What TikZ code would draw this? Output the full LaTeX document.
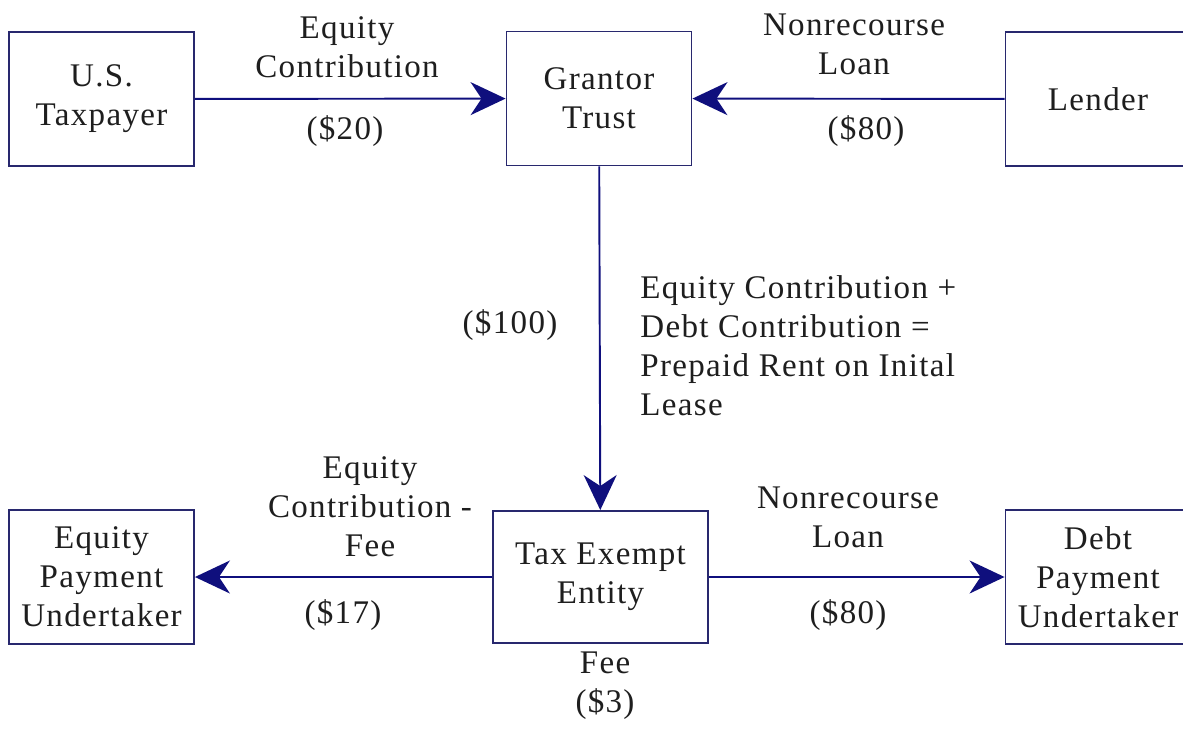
\documentclass[tikz,border=0pt]{standalone}
\usepackage{fontspec}
\setmainfont[LetterSpace=4]{Liberation Serif}
\usetikzlibrary{arrows.meta}
\definecolor{boxline}{RGB}{40,40,110}
\definecolor{flowblue}{RGB}{15,15,125}
\definecolor{inkgray}{RGB}{30,30,30}
\tikzset{
  party/.style={draw=boxline, line width=1.1pt, minimum width=3.7cm,
    minimum height=2.68cm, align=center, inner sep=0pt, text=inkgray},
  flow/.style={draw=flowblue, line width=1.1pt,
    -{Stealth[length=0.7cm, width=0.66cm, inset=0.22cm]}},
  amount/.style={align=center, text=inkgray, inner sep=0pt}
}
\begin{document}
\begin{tikzpicture}[x=0.02cm, y=-0.02cm, font=\fontsize{18.8}{22.2}\selectfont]
  \useasboundingbox (0,0) rectangle (1183,730);
  % parties
  \node[party] (taxpayer) at (101.5,99) {U.S.\\Taxpayer};
  \node[party] (grantor) at (599,98.5) {Grantor\\Trust};
  \node[party] (lender) at (1098,99) {Lender};
  \node[party] (equitypu) at (101.5,577) {Equity\\Payment\\Undertaker};
  \node[party, minimum width=4.3cm, minimum height=2.64cm] (exempt) at (600.5,577) {Tax Exempt\\Entity};
  \node[party] (debtpu) at (1098,577) {Debt\\Payment\\Undertaker};
  % flows
  \draw[flow] (taxpayer) -- (grantor);
  \draw[flow] (lender) -- (grantor);
  \draw[flow] (grantor) -- (exempt);
  \draw[flow] (exempt) -- (equitypu);
  \draw[flow] (exempt) -- (debtpu);
  % labels
  \node[amount] (eqtop) at (347,47) {Equity\\Contribution};
  \node[amount] (eqtopamt) at (345,131) {(\$20)};
  \node[amount] (loantop) at (854,44) {Nonrecourse\\Loan};
  \node[amount] (loantopamt) at (866,131) {(\$80)};
  \node[amount] (trustamt) at (510,325) {(\$100)};
  \node[amount, anchor=west, align=left] (rentnote) at (640,346)
    {Equity Contribution +\\Debt Contribution =\\Prepaid Rent on Inital\\Lease};
  \node[amount] (eqbot) at (370,507) {Equity\\Contribution -\\Fee};
  \node[amount] (eqbotamt) at (343,615) {(\$17)};
  \node[amount] (loanbot) at (848,517) {Nonrecourse\\Loan};
  \node[amount] (loanbotamt) at (848,615) {(\$80)};
  \node[amount] (fee) at (605,686) {Fee\\(\$3)};
\end{tikzpicture}
\end{document}
